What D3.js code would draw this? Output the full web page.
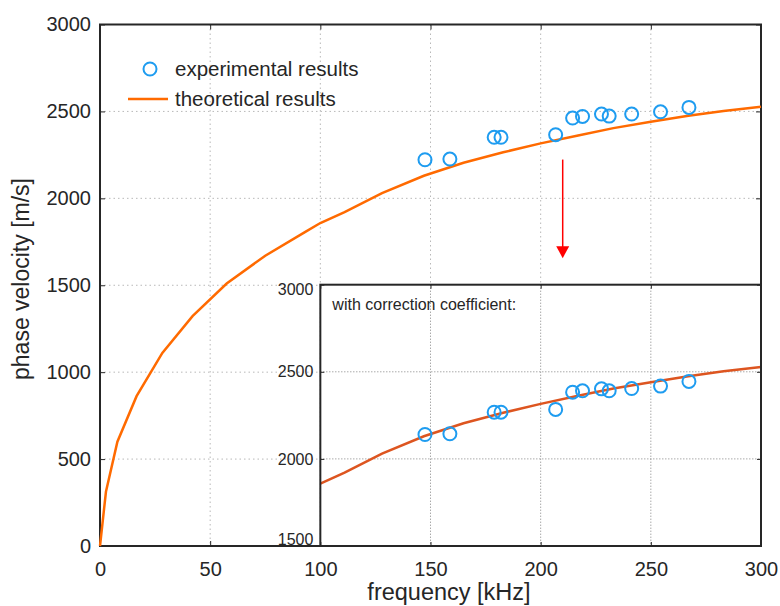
<!DOCTYPE html>
<html>
<head>
<meta charset="utf-8">
<script src="https://cdn.jsdelivr.net/npm/d3@7"></script>
<style>
  body { margin: 0; background: #fff; }
  text { font-family: "Liberation Sans", Arial, sans-serif; fill: #262626; }
</style>
</head>
<body>
<div id="chart"></div>
<script>
// theoretical dispersion curve [kHz, m/s]
var theoFreq = [0, 2.7, 7.9, 16.6, 28.3, 42, 57.5, 75, 93, 100, 111, 128, 147, 165, 183, 200, 217, 233, 250, 267, 283, 300];
var theoVel  = [0, 312, 600, 862, 1111, 1322, 1510, 1670, 1806, 1858, 1921, 2030, 2130, 2205, 2265, 2316, 2362, 2404, 2440, 2475, 2503, 2527];

// measured points
var expFreq = [147.5, 158.8, 178.9, 182, 206.8, 214.5, 219, 227.6, 231.1, 241.3, 254.4, 267.3];
var expVel  = [2222, 2226, 2351, 2351, 2366, 2462, 2471, 2485, 2473, 2485, 2498, 2523];
// measured points with correction coefficient (inset)
var corVel  = [2140, 2144, 2268, 2268, 2284, 2383, 2391, 2402, 2391, 2404, 2418, 2445];

var xTicks = [0, 50, 100, 150, 200, 250, 300];
var yTicks = [0, 500, 1000, 1500, 2000, 2500, 3000];
var insetXTicks = [100, 150, 200, 250, 300];
var insetYTicks = [1500, 2000, 2500, 3000];

var W = 780, H = 606;
var margin = {top: 24.5, right: 19, bottom: 60, left: 100},
    width = W - margin.left - margin.right,
    height = H - margin.top - margin.bottom;

var svg = d3.select("#chart").append("svg")
    .attr("width", W).attr("height", H)
  .append("g")
    .attr("transform", "translate(" + margin.left + "," + margin.top + ")");

var x = d3.scaleLinear().domain([0, 300]).range([0, width]);
var y = d3.scaleLinear().domain([0, 3000]).range([height, 0]);
var fmt = d3.format("d");

var theo = theoFreq.map(function(f, i) { return {f: f, v: theoVel[i]}; });
var exp = expFreq.map(function(f, i) { return {f: f, v: expVel[i], c: corVel[i]}; });

// grid
var grid = svg.append("g").attr("class", "grid")
    .style("stroke", "#b8b8b8").style("stroke-width", 1).style("stroke-dasharray", "1.5,3");
grid.selectAll(".gx").data(xTicks.slice(1, -1)).enter().append("line")
    .attr("x1", function(d) { return x(d); }).attr("x2", function(d) { return x(d); })
    .attr("y1", 0).attr("y2", height);
grid.selectAll(".gy").data(yTicks.slice(1, -1)).enter().append("line")
    .attr("y1", function(d) { return y(d); }).attr("y2", function(d) { return y(d); })
    .attr("x1", 0).attr("x2", width);

// axes (ticks inward, MATLAB style)
function styleAxis(g) {
  g.select(".domain").remove();
  g.selectAll(".tick line").attr("stroke", "#262626").attr("stroke-width", 1);
  g.selectAll(".tick text").style("font-size", "20px").attr("fill", "#262626");
}
svg.append("g").attr("transform", "translate(0," + height + ")")
    .call(d3.axisBottom(x).tickValues(xTicks).tickFormat(fmt).tickSize(-5).tickPadding(16).tickSizeOuter(0))
    .call(styleAxis);
svg.append("g")
    .call(d3.axisLeft(y).tickValues(yTicks).tickFormat(fmt).tickSize(-5).tickPadding(9).tickSizeOuter(0))
    .call(styleAxis);
svg.append("g")
    .call(d3.axisTop(x).tickValues(xTicks).tickSize(-5).tickFormat("").tickSizeOuter(0))
    .call(styleAxis);
svg.append("g").attr("transform", "translate(" + width + ",0)")
    .call(d3.axisRight(y).tickValues(yTicks).tickSize(-5).tickFormat("").tickSizeOuter(0))
    .call(styleAxis);

svg.append("rect").attr("width", width).attr("height", height)
    .attr("fill", "none").attr("stroke", "#262626").attr("stroke-width", 2);

var line = d3.line()
    .x(function(d) { return x(d.f); })
    .y(function(d) { return y(d.v); });

svg.append("path").datum(theo)
    .attr("d", line)
    .attr("fill", "none").attr("stroke", "#ff6a00").attr("stroke-width", 2.5);

svg.selectAll(".dot").data(exp).enter().append("circle")
    .attr("cx", function(d) { return x(d.f); })
    .attr("cy", function(d) { return y(d.v); })
    .attr("r", 6.5)
    .attr("fill", "none").attr("stroke", "#1e9cf0").attr("stroke-width", 2);

// red arrow
var arrowF = 210, arrowV0 = 2223, arrowV1 = 1656;
svg.append("line")
    .attr("x1", x(arrowF)).attr("x2", x(arrowF))
    .attr("y1", y(arrowV0)).attr("y2", y(arrowV1) - 10)
    .attr("stroke", "#ff0000").attr("stroke-width", 1.5);
svg.append("path")
    .attr("d", "M" + (x(arrowF) - 6.5) + "," + (y(arrowV1) - 12) + "L" + (x(arrowF) + 6.5) + "," + (y(arrowV1) - 12) +
               "L" + x(arrowF) + "," + y(arrowV1) + "Z")
    .attr("fill", "#ff0000");

// legend
var leg = svg.append("g").attr("transform", "translate(" + (-margin.left) + "," + (-margin.top) + ")");
leg.append("circle").attr("cx", 150).attr("cy", 69).attr("r", 6.5)
    .attr("fill", "none").attr("stroke", "#1e9cf0").attr("stroke-width", 2);
leg.append("text").attr("x", 175).attr("y", 69).attr("dy", "0.35em")
    .style("font-size", "20.5px").text("experimental results");
leg.append("line").attr("x1", 128).attr("x2", 168).attr("y1", 99).attr("y2", 99)
    .attr("stroke", "#ff6a00").attr("stroke-width", 2.5);
leg.append("text").attr("x", 175).attr("y", 99).attr("dy", "0.35em")
    .style("font-size", "20.5px").text("theoretical results");

// axis titles
svg.append("text")
    .attr("x", 349).attr("y", height + 54)
    .attr("text-anchor", "middle")
    .style("font-size", "23.5px")
    .text("frequency [kHz]");
svg.append("text")
    .attr("transform", "translate(" + (28.5 - margin.left) + "," + (279 - margin.top) + ") rotate(-90)")
    .attr("text-anchor", "middle")
    .style("font-size", "23px")
    .text("phase velocity [m/s]");

// ---- inset ----
var ix0 = x(100), iw = width - ix0, itop = 260.2, ih = height - itop;
var inset = svg.append("g").attr("transform", "translate(" + ix0 + "," + itop + ")");
var xi = d3.scaleLinear().domain([100, 300]).range([0, iw]);
var yi = d3.scaleLinear().domain([1500, 3000]).range([ih, 0]);

inset.append("rect").attr("width", iw).attr("height", ih).attr("fill", "#fff");

var igrid = inset.append("g")
    .style("stroke", "#808080").style("stroke-width", 1).style("stroke-dasharray", "1,2");
igrid.selectAll(".gx").data(insetXTicks.slice(1, -1)).enter().append("line")
    .attr("x1", function(d) { return xi(d); }).attr("x2", function(d) { return xi(d); })
    .attr("y1", 0).attr("y2", ih);
igrid.selectAll(".gy").data(insetYTicks.slice(1, -1)).enter().append("line")
    .attr("y1", function(d) { return yi(d); }).attr("y2", function(d) { return yi(d); })
    .attr("x1", 0).attr("x2", iw);

function styleInset(g) {
  g.select(".domain").remove();
  g.selectAll(".tick line").attr("stroke", "#262626");
  g.selectAll(".tick text").style("font-size", "16px").attr("fill", "#262626");
}
var iyAxis = inset.append("g")
    .call(d3.axisLeft(yi).tickValues(insetYTicks).tickFormat(fmt).tickSize(-4).tickPadding(7).tickSizeOuter(0))
    .call(styleInset);
// edge labels sit slightly inside the box
iyAxis.selectAll(".tick text").attr("dy", function(d) {
  return d === 1500 ? "-0.12em" : (d === 3000 ? "0.6em" : "0.32em");
});
inset.append("g").attr("transform", "translate(" + iw + ",0)")
    .call(d3.axisRight(yi).tickValues(insetYTicks).tickSize(-4).tickFormat("").tickSizeOuter(0))
    .call(styleInset);
inset.append("g")
    .call(d3.axisTop(xi).tickValues(insetXTicks).tickSize(-4).tickFormat("").tickSizeOuter(0))
    .call(styleInset);
inset.append("g").attr("transform", "translate(0," + ih + ")")
    .call(d3.axisBottom(xi).tickValues(insetXTicks).tickSize(-4).tickFormat("").tickSizeOuter(0))
    .call(styleInset);

var iline = d3.line()
    .x(function(d) { return xi(d.f); })
    .y(function(d) { return yi(d.v); });
inset.append("path").datum(theo.filter(function(d) { return d.f >= 100; }))
    .attr("d", iline)
    .attr("fill", "none").attr("stroke", "#dd5520").attr("stroke-width", 2.5);

inset.selectAll(".dot").data(exp).enter().append("circle")
    .attr("cx", function(d) { return xi(d.f); })
    .attr("cy", function(d) { return yi(d.c); })
    .attr("r", 6.5)
    .attr("fill", "none").attr("stroke", "#1e9cf0").attr("stroke-width", 2);

inset.append("rect").attr("width", iw).attr("height", ih)
    .attr("fill", "none").attr("stroke", "#262626").attr("stroke-width", 2);

inset.append("text").attr("x", 12).attr("y", 20).attr("dy", "0.35em")
    .style("font-size", "16px").text("with correction coefficient:");
</script>
</body>
</html>
